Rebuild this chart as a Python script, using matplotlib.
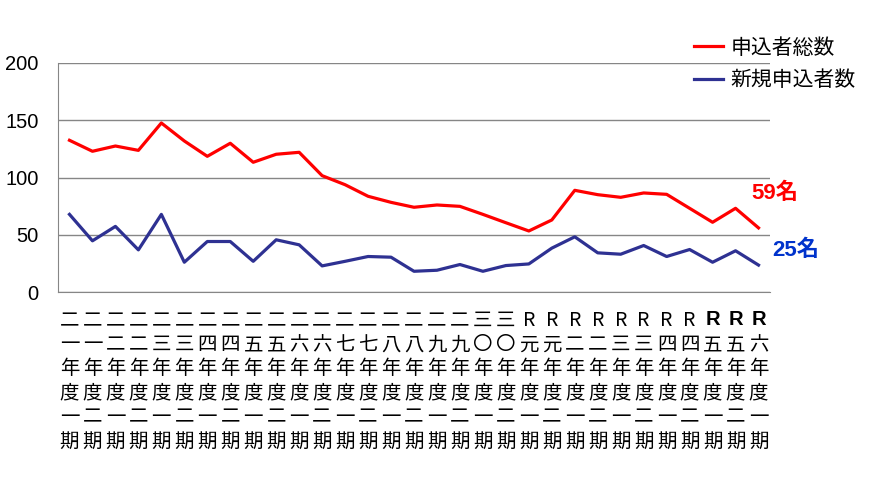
import matplotlib
matplotlib.use("Agg")
import matplotlib.pyplot as plt

plt.rcParams['font.family'] = ['Liberation Sans', 'Noto Sans CJK JP', 'DejaVu Sans']

# period labels (one character per line, written vertically)
years = ['二一', '二一', '二二', '二二', '二三', '二三', '二四', '二四', '二五', '二五',
         '二六', '二六', '二七', '二七', '二八', '二八', '二九', '二九', '三〇', '三〇',
         'R元', 'R元', 'R二', 'R二', 'R三', 'R三', 'R四', 'R四', 'R五', 'R五', 'R六']
terms = ['一', '二'] * 15 + ['一']

total = [132.5, 122.9, 127.5, 123.7, 147.6, 131.9, 118.5, 129.9, 113.3, 120.3,
         122.0, 101.6, 93.7, 83.6, 78.3, 74.0, 76.0, 74.8, 67.8, 60.5,
         53.3, 62.9, 88.8, 85.0, 82.7, 86.5, 85.3, 73.1, 60.9, 73.1, 56.0]
new = [67.8, 44.7, 57.3, 36.8, 67.8, 26.0, 44.1, 44.1, 26.8, 45.6,
       41.2, 22.8, 26.8, 31.0, 30.4, 18.1, 19.0, 24.0, 18.1, 23.1,
       24.5, 38.3, 48.2, 34.2, 33.0, 40.6, 31.0, 37.1, 26.0, 36.0, 23.5]

n_bold = 3  # last three periods have a bold "R" in the original

labels = []
for i, (y, t) in enumerate(zip(years, terms)):
    chars = list(y + '年度' + t + '期')
    if i >= len(years) - n_bold:
        chars[0] = '\u3000'  # bold R drawn separately below
    labels.append("\n".join(chars))
x = list(range(len(labels)))

fig = plt.figure(figsize=(8.81, 4.95), dpi=100)
ax = fig.add_axes([58 / 881, 1 - 292 / 495, (770 - 58) / 881, (292 - 63) / 495])

ax.plot(x, total, color='#ff0000', lw=2.3, label='申込者総数')
ax.plot(x, new, color='#2e3192', lw=2.3, label='新規申込者数')

ax.set_xlim(-0.5, len(x) - 0.5)
ax.set_ylim(0, 200)
ax.set_yticks([0, 50, 100, 150, 200])
ax.yaxis.grid(True, color='#868686', lw=1)
ax.set_axisbelow(True)
for s in ['top', 'right']:
    ax.spines[s].set_visible(False)
for s in ['left', 'bottom']:
    ax.spines[s].set_color('#868686')
ax.tick_params(axis='y', length=0, pad=14, labelsize=14.5)
ax.tick_params(axis='x', length=0, pad=13)
ax.set_xticks(x)
ax.set_xticklabels(labels, fontsize=14, linespacing=1.2,
                   family=['Noto Sans CJK JP', 'DejaVu Sans'])

for i in x[-n_bold:]:
    ax.annotate(years[i][0], xy=(i, 0), xycoords=('data', 'axes fraction'),
                xytext=(0, -13), textcoords='offset points', ha='center', va='top',
                fontsize=14.5, fontweight='bold', family=['Liberation Sans'])

ax.text(len(x) - 1.3, 86, '59名', color='#ff0000', fontsize=16, fontweight='bold',
        ha='left', va='center', family=['Liberation Sans', 'Noto Sans CJK JP'])
ax.text(len(x) - 0.4, 36, '25名', color='#0033cc', fontsize=16, fontweight='bold',
        ha='left', va='center', family=['Liberation Sans', 'Noto Sans CJK JP'])

fig.legend(loc='upper left', bbox_to_anchor=(675 / 881, 1 - 18 / 495), frameon=False,
           handlelength=1.4, handletextpad=0.35, labelspacing=0.5,
           prop={'family': ['Noto Sans CJK JP'], 'size': 15})

fig.savefig('out.png', dpi=100)
